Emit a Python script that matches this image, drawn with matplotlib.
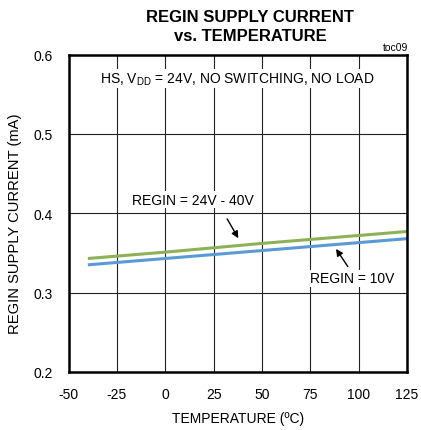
import matplotlib
matplotlib.use("Agg")
import matplotlib.pyplot as plt

plt.rcParams['font.family'] = ['Liberation Sans', 'DejaVu Sans']
plt.rcParams['axes.unicode_minus'] = False

temp = [-40, 0, 25, 50, 75, 100, 125]
regin_24_40 = [0.343, 0.351, 0.3565, 0.362, 0.367, 0.372, 0.377]
regin_10 = [0.335, 0.343, 0.348, 0.353, 0.358, 0.363, 0.368]
xticks = [-50, -25, 0, 25, 50, 75, 100, 125]
yticks = [0.2, 0.3, 0.4, 0.5, 0.6]

fig = plt.figure(figsize=(4.21, 4.31), dpi=100)
ax = fig.add_axes([68.5/421, 1-373/431, (407-68.5)/421, (373-55.5)/431])

ax.plot(temp, regin_10, color='#5B9BD5', lw=2.2, solid_capstyle='butt')
ax.plot(temp, regin_24_40, color='#8DB255', lw=2.2, solid_capstyle='butt')

ax.set_xlim(-50, 125)
ax.set_ylim(0.2, 0.6)
ax.set_xticks(xticks)
ax.set_yticks(yticks)
ax.set_xticklabels([str(t) for t in xticks])
ax.set_yticklabels(['0.2', '0.3', '0.4', '0.5', '0.6'])
ax.grid(True, color='#222222', lw=0.8)
ax.tick_params(length=0, labelsize=10)
ax.tick_params(axis='x', pad=11)
ax.tick_params(axis='y', pad=11)
for s in ax.spines.values():
    s.set_linewidth(1.8)

ax.set_xlabel('TEMPERATURE (ºC)', fontsize=10, labelpad=7)
fig.text(15/421, 1-224/431, 'REGIN SUPPLY CURRENT (mA)', rotation=90, ha='center', va='center',
         fontsize=10.6)

fig.text(250/421, 1-27/431, 'REGIN SUPPLY CURRENT\nvs. TEMPERATURE', ha='center', va='center',
         fontsize=12, fontweight='bold', linespacing=1.35)
fig.text(408/421, 1-48/431, 'toc09', ha='right', va='center', fontsize=7.5)

ax.text(37.5, 0.570, 'HS, V$_{\\mathregular{DD}}$ = 24V, NO SWITCHING, NO LOAD', ha='center', va='center',
        fontsize=10, bbox=dict(facecolor='white', edgecolor='none', pad=1))

ax.annotate('', xy=(38.5, 0.3655), xytext=(31.3, 0.396),
            arrowprops=dict(arrowstyle='-|>', color='black', lw=1, mutation_scale=10))
ax.text(14.2, 0.417, 'REGIN = 24V - 40V', ha='center', va='center', fontsize=10,
        bbox=dict(facecolor='white', edgecolor='none', pad=1))

ax.annotate('', xy=(87.5, 0.358), xytext=(95.2, 0.330),
            arrowprops=dict(arrowstyle='-|>', color='black', lw=1, mutation_scale=10))
ax.text(96.8, 0.318, 'REGIN = 10V', ha='center', va='center', fontsize=10,
        bbox=dict(facecolor='white', edgecolor='none', pad=1))

fig.savefig('out.png', dpi=100)
